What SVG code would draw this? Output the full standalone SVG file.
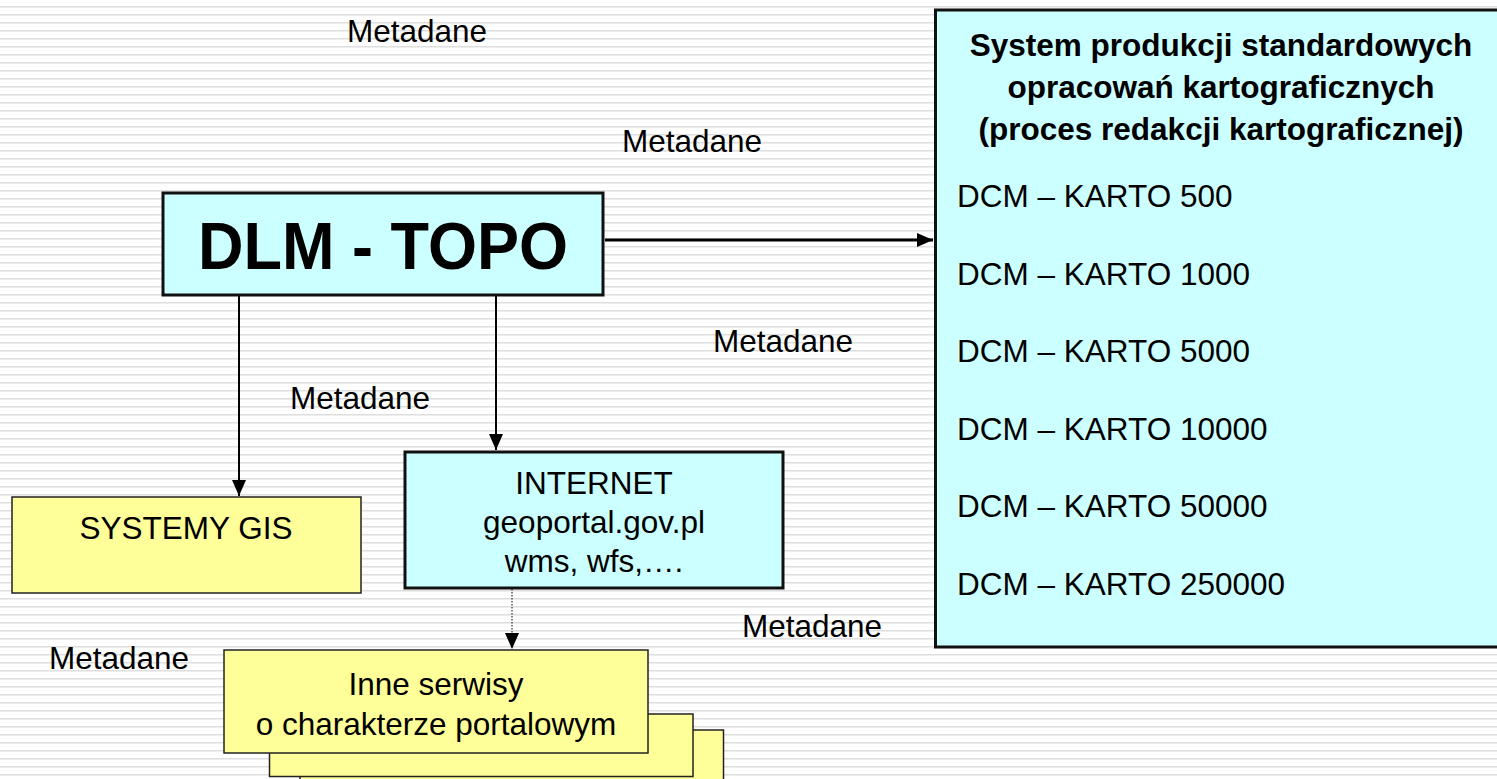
<svg xmlns="http://www.w3.org/2000/svg" width="1497" height="779" viewBox="0 0 1497 779">
<style>
text{font-family:"Liberation Sans",Arial,Helvetica,sans-serif;fill:#000}
.t{font-size:31.5px}
.c{text-anchor:middle}
.b{font-weight:bold}
.cyan{fill:#ccffff;stroke:#111;stroke-width:3}
.yel{fill:#ffff99;stroke:#222;stroke-width:1.5}
.ln{stroke:#000;fill:none}
</style>
<defs>
<pattern id="stripes" x="0" y="0" width="8" height="8" patternUnits="userSpaceOnUse">
<rect width="8" height="8" fill="#ffffff"/>
<rect y="6" width="8" height="1" fill="#dedede"/>
<rect y="7" width="8" height="1" fill="#eeeeee"/>
</pattern>
<marker id="ah" viewBox="0 0 16 14" refX="16" refY="7" markerWidth="16" markerHeight="14" markerUnits="userSpaceOnUse" orient="auto">
<path d="M0,0 L16,7 L0,14 z" fill="#000"/>
</marker>
</defs>
<rect width="1497" height="779" fill="url(#stripes)"/>

<g id="metadane-labels">
<text class="t c" x="417" y="42">Metadane</text>
<text class="t c" x="692" y="152">Metadane</text>
<text class="t c" x="360" y="409">Metadane</text>
<text class="t c" x="783" y="352">Metadane</text>
<text class="t c" x="812" y="637">Metadane</text>
<text class="t c" x="119" y="669">Metadane</text>
</g>

<g id="connectors">
<line class="ln" x1="605" y1="240" x2="933" y2="240" stroke-width="3" marker-end="url(#ah)"/>
<line class="ln" x1="239" y1="296" x2="239" y2="496" stroke-width="2" marker-end="url(#ah)"/>
<line class="ln" x1="496" y1="296" x2="496" y2="450" stroke-width="2" marker-end="url(#ah)"/>
<line class="ln" x1="512" y1="589" x2="512" y2="649" stroke-width="1" stroke-dasharray="1.5,1.5" marker-end="url(#ah)"/>
</g>

<g id="dlm-topo">
<rect class="cyan" x="163" y="193" width="440" height="102"/>
<text class="c b" x="383" y="269" font-size="66" textLength="370" lengthAdjust="spacingAndGlyphs">DLM - TOPO</text>
</g>

<g id="system-produkcji">
<rect class="cyan" x="935.5" y="10" width="600" height="637"/>
<text class="c b" x="1221" y="56" font-size="31.5">System produkcji standardowych</text>
<text class="c b" x="1221" y="98" font-size="31.5">opracowań kartograficznych</text>
<text class="c b" x="1221" y="140" font-size="31.5">(proces redakcji kartograficznej)</text>
<text class="t" x="957" y="207">DCM – KARTO 500</text>
<text class="t" x="957" y="284.6">DCM – KARTO 1000</text>
<text class="t" x="957" y="362.2">DCM – KARTO 5000</text>
<text class="t" x="957" y="439.8">DCM – KARTO 10000</text>
<text class="t" x="957" y="517.4">DCM – KARTO 50000</text>
<text class="t" x="957" y="595">DCM – KARTO 250000</text>
</g>

<g id="systemy-gis">
<rect class="yel" x="12" y="497" width="349" height="96"/>
<text class="t c" x="186" y="539">SYSTEMY GIS</text>
</g>

<g id="internet">
<rect class="cyan" x="405" y="452" width="378" height="136"/>
<text class="t c" x="594" y="494">INTERNET</text>
<text class="t c" x="594" y="533">geoportal.gov.pl</text>
<text class="t c" x="594" y="572">wms, wfs,….</text>
</g>

<g id="inne-serwisy">
<rect class="yel" x="300" y="730" width="423.5" height="60"/>
<rect class="yel" x="269.5" y="714" width="423.5" height="62.5"/>
<rect class="yel" x="224" y="650" width="424" height="103"/>
<text class="t c" x="436" y="695">Inne serwisy</text>
<text class="t c" x="436" y="735">o charakterze portalowym</text>
</g>
</svg>
